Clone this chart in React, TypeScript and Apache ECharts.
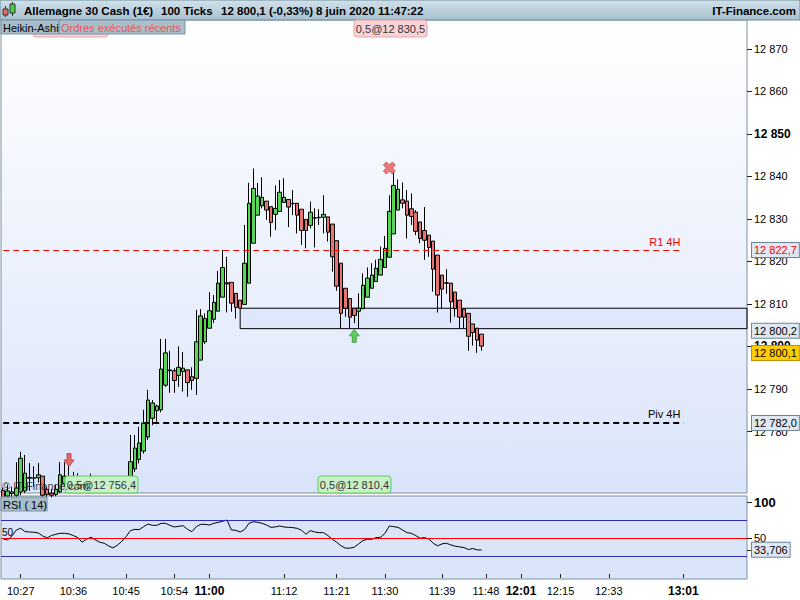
import { useEffect, useRef } from "react";
import * as echarts from "echarts";

// 100-tick Heikin-Ashi candles, index = slot on the time axis
const opens = [
  12766.1, 12764.8, 12765.4, 12765.0, 12765.8, 12766.0, 12769.0, 12769.1, 12769.1, 12769.5,
  12766.4, 12765.5, 12765.2, 12765.8, 12767.8, 12768.7, 12768.1, 12767.8, 12767.4, 12767.2,
  12767.4, 12767.8, 12767.6, 12767.4, 12767.5, 12767.7, 12767.6, 12767.8, 12768.1, 12769.4,
  12771.2, 12773.4, 12775.4, 12778.7, 12783.1, 12784.9, 12785.1, 12790.9, 12794.5, 12794.3,
  12793.2, 12794.1, 12794.5, 12792.9, 12792.5, 12796.8, 12801.1, 12804.3, 12806.4, 12808.3,
  12811.6, 12815.0, 12815.1, 12812.5, 12810.9, 12809.9, 12814.9, 12824.3, 12830.9, 12833.1,
  12834.2, 12832.9, 12831.1, 12831.8, 12833.9, 12834.6, 12833.7, 12833.7, 12832.3, 12829.9,
  12828.5, 12830.3, 12830.3, 12830.4, 12830.5, 12828.8, 12824.9, 12819.6, 12813.7, 12811.3,
  12809.0, 12808.3, 12808.9, 12811.6, 12813.7, 12815.3, 12816.8, 12818.6, 12821.0, 12826.5,
  12832.1, 12834.5, 12834.2, 12832.4, 12831.6, 12829.3, 12827.3, 12826.2, 12824.8, 12821.5,
  12816.8, 12815.0, 12814.9, 12812.8, 12810.9, 12808.8, 12807.8, 12805.3, 12804.3, 12802.9,
];
const closes = [
  12764.0, 12766.0, 12765.8, 12766.7, 12773.7, 12770.2, 12769.2, 12769.0, 12769.8, 12765.0,
  12765.2, 12765.0, 12766.4, 12769.8, 12769.5, 12767.5, 12767.6, 12767.2, 12767.0, 12767.6,
  12768.1, 12767.5, 12767.2, 12767.7, 12767.9, 12767.4, 12768.0, 12768.3, 12768.9, 12772.9,
  12776.1, 12777.3, 12782.0, 12787.4, 12786.7, 12786.0, 12794.7, 12798.5, 12794.3, 12792.0,
  12795.1, 12794.9, 12791.5, 12792.0, 12801.1, 12807.2, 12806.6, 12808.4, 12810.4, 12814.9,
  12818.6, 12814.7, 12810.2, 12809.2, 12809.0, 12819.6, 12833.7, 12837.2, 12835.4, 12835.1,
  12832.1, 12829.2, 12832.5, 12836.3, 12835.1, 12832.8, 12833.6, 12830.9, 12827.3, 12827.3,
  12831.6, 12830.2, 12830.4, 12831.1, 12826.9, 12821.1, 12814.2, 12807.8, 12809.0, 12806.9,
  12807.3, 12809.0, 12814.4, 12816.1, 12816.8, 12818.4, 12820.5, 12823.1, 12831.8, 12837.9,
  12837.0, 12833.7, 12830.9, 12830.6, 12827.1, 12825.4, 12825.0, 12823.3, 12818.2, 12812.1,
  12813.5, 12814.9, 12810.5, 12808.9, 12806.9, 12806.9, 12802.4, 12803.3, 12801.5, 12800.1,
];
const lows = [
  12763.5, 12763.5, 12764.0, 12764.0, 12765.0, 12765.5, 12766.0, 12767.0, 12768.0, 12764.0,
  12764.5, 12764.5, 12764.8, 12765.5, 12767.0, 12766.8, 12766.5, 12766.0, 12766.0, 12766.2,
  12766.8, 12766.5, 12766.0, 12766.4, 12766.8, 12766.5, 12766.9, 12767.0, 12767.4, 12768.6,
  12770.5, 12772.5, 12774.8, 12778.0, 12781.5, 12782.3, 12784.5, 12790.5, 12789.1, 12789.1,
  12790.5, 12789.4, 12788.2, 12789.8, 12788.6, 12796.8, 12800.6, 12804.3, 12805.5, 12808.3,
  12811.6, 12808.0, 12808.2, 12806.6, 12808.9, 12809.9, 12814.9, 12824.3, 12830.9, 12832.5,
  12829.8, 12825.8, 12827.4, 12831.8, 12833.9, 12828.1, 12830.9, 12826.6, 12823.9, 12823.1,
  12827.8, 12823.3, 12828.6, 12826.6, 12824.7, 12817.6, 12813.1, 12804.3, 12807.0, 12804.3,
  12805.5, 12804.3, 12808.9, 12811.6, 12813.7, 12815.3, 12816.8, 12818.6, 12821.0, 12826.5,
  12832.1, 12832.5, 12825.4, 12828.6, 12826.2, 12824.3, 12820.4, 12821.1, 12812.9, 12808.0,
  12808.9, 12812.4, 12805.6, 12807.0, 12804.3, 12804.3, 12799.0, 12800.2, 12798.5, 12799.0,
];
const highs = [
  12766.8, 12767.5, 12767.0, 12772.8, 12775.2, 12774.5, 12772.6, 12771.8, 12772.6, 12769.5,
  12767.0, 12766.5, 12767.5, 12772.8, 12772.8, 12772.0, 12770.5, 12770.2, 12768.5, 12768.8,
  12770.1, 12769.0, 12768.4, 12768.6, 12769.0, 12768.7, 12769.2, 12769.3, 12769.2, 12779.2,
  12779.2, 12781.1, 12785.1, 12789.8, 12787.4, 12786.3, 12801.8, 12801.8, 12799.0, 12794.9,
  12800.0, 12798.7, 12794.5, 12795.1, 12808.6, 12808.8, 12807.8, 12812.8, 12812.1, 12817.8,
  12822.7, 12821.1, 12815.1, 12812.5, 12810.9, 12828.6, 12838.5, 12841.9, 12838.5, 12839.8,
  12834.2, 12832.9, 12837.9, 12839.2, 12839.6, 12834.6, 12836.8, 12833.7, 12832.3, 12829.9,
  12834.1, 12832.5, 12832.3, 12835.6, 12830.5, 12828.8, 12824.9, 12819.6, 12813.7, 12811.3,
  12809.0, 12812.5, 12817.2, 12818.6, 12819.6, 12820.4, 12823.5, 12826.0, 12835.6, 12841.1,
  12839.3, 12838.6, 12836.8, 12836.0, 12832.1, 12829.3, 12832.8, 12826.2, 12824.8, 12821.5,
  12816.8, 12818.2, 12814.9, 12812.8, 12810.9, 12808.8, 12807.8, 12805.3, 12804.3, 12802.9,
];

// RSI(14), one value per candle
const rsiValues = [
  49.0, 47.6, 53.2, 61.5, 63.8, 59.2, 58.7, 58.3, 57.3, 53.2,
  50.4, 53.7, 55.5, 56.9, 56.9, 56.0, 53.7, 50.9, 44.4, 48.6,
  51.3, 47.6, 44.4, 43.0, 39.3, 36.5, 40.2, 45.3, 52.3, 60.6,
  62.4, 62.0, 66.1, 69.9, 68.0, 68.0, 70.8, 70.8, 68.0, 65.7,
  66.6, 67.5, 62.4, 59.2, 66.1, 69.4, 69.4, 68.5, 70.8, 72.2,
  73.6, 75.4, 61.5, 61.1, 58.7, 62.0, 70.8, 73.1, 72.2, 70.8,
  68.5, 65.2, 65.7, 67.1, 65.7, 65.2, 64.8, 63.8, 61.1, 55.5,
  60.6, 58.7, 57.8, 57.8, 53.7, 48.6, 44.4, 39.3, 36.1, 36.1,
  37.4, 42.1, 46.7, 48.6, 48.6, 50.9, 51.3, 56.9, 67.1, 66.1,
  65.2, 61.5, 57.8, 56.9, 53.7, 50.0, 50.9, 49.0, 43.0, 39.3,
  42.1, 43.0, 40.7, 38.8, 37.9, 37.0, 34.2, 35.6, 33.7, 33.706,
];

// time axis: slots and the labelled ones
const SLOTS = 170;
const timeLabels = ["10:27", "10:36", "10:45", "10:54", "11:00", "11:12", "11:21", "11:30", "11:39", "11:48", "12:01", "12:15", "12:33", "13:01"];
const timeLabelSlots = [4, 16, 28, 39, 47, 64, 76, 87, 100, 110, 118, 127, 138, 155];
const boldTimes = ["11:00", "12:01", "13:01"];

const priceTicks = [12780, 12790, 12800, 12810, 12820, 12830, 12840, 12850, 12860, 12870];
const boldPrices = [12800, 12850];
const rsiTicks = [50, 100];

const r1Level = 12822.7;
const pivotLevel = 12782.0;
const zoneTop = 12809.0;
const zoneBottom = 12804.2;
const zoneStartSlot = 54;
const lastPrice = 12800.1;
const lastRsi = 33.706;

const sellSignal = [15, 12773.3];
const buySignal = [80, 12802.5];
const exitSignal = [88, 12842.0];

const FONT = "Liberation Sans";

function fmtPrice(v: number, dec = 0) {
  const s = v.toFixed(dec).replace(".", ",");
  const [int, frac] = s.split(",");
  const grouped = int.replace(/\B(?=(\d{3})+(?!\d))/g, " ");
  return frac ? `${grouped},${frac}` : grouped;
}

// value tag drawn at the right end of an invisible horizontal line
function valueTag(value: number, text: string, color: string, bg: string, border: string, dy = 0) {
  return {
    yAxis: value,
    lineStyle: { color: "rgba(0,0,0,0)", width: 0 },
    label: {
      show: true,
      position: "end",
      distance: 5,
      formatter: text,
      color,
      fontFamily: FONT,
      fontSize: 11,
      backgroundColor: bg,
      borderColor: border,
      borderWidth: 1,
      padding: [2, 2, 1, 2],
      offset: [0, dy],
    },
  };
}

function tab(x: number, y: number, w: number, text: string, color: string) {
  return [
    {
      type: "rect",
      z: 100,
      shape: { x, y, width: w, height: 14 },
      style: { fill: "#a8bfcb", stroke: "#7893a3", lineWidth: 1 },
    },
    {
      type: "text",
      z: 101,
      x: x + 2,
      y: y + 7.5,
      style: { text, fill: color, font: `11px "${FONT}"`, verticalAlign: "middle" },
    },
  ];
}

function tradeBox(x: number, y: number, text: string, fill: string, stroke: string) {
  return [
    {
      type: "rect",
      z: 100,
      shape: { x, y, width: 73, height: 17, r: 3 },
      style: { fill, stroke, lineWidth: 1 },
    },
    {
      type: "text",
      z: 101,
      x: x + 36.5,
      y: y + 9,
      style: { text, fill: "#333", font: `11px "${FONT}"`, align: "center", verticalAlign: "middle" },
    },
  ];
}

export default function App() {
  const chartRef = useRef<HTMLDivElement>(null);

  useEffect(() => {
    if (!chartRef.current) return;
    const chart = echarts.init(chartRef.current, null, { renderer: "svg" });

    const categories: string[] = Array.from({ length: SLOTS }, () => "");
    timeLabelSlots.forEach((s, i) => (categories[s] = timeLabels[i]));
    const showSlot = (index: number) => timeLabelSlots.includes(index);

    const candles = opens.map((o, i) => [o, closes[i], lows[i], highs[i]]);

    const headerFont = `bold 11.5px "${FONT}"`;

    const option = {
      animation: false,
      backgroundColor: "#ffffff",
      textStyle: { fontFamily: FONT },
      grid: [
        {
          left: 1,
          right: 53,
          top: 20,
          height: 473,
          show: true,
          backgroundColor: new echarts.graphic.LinearGradient(0, 0, 0, 1, [
            { offset: 0, color: "#ffffff" },
            { offset: 1, color: "#dae4fa" },
          ]),
          borderColor: "#7d91a0",
          borderWidth: 1,
        },
        {
          left: 1,
          right: 53,
          top: 496,
          height: 83,
          show: true,
          backgroundColor: "#dbe5fa",
          borderColor: "#7d91a0",
          borderWidth: 1,
        },
      ],
      xAxis: [
        {
          type: "category",
          gridIndex: 0,
          data: categories,
          boundaryGap: true,
          show: false,
        },
        {
          type: "category",
          gridIndex: 1,
          data: categories,
          boundaryGap: true,
          axisLine: { show: false },
          axisTick: {
            show: true,
            interval: (index: number) => showSlot(index),
            alignWithLabel: true,
            length: 4,
            lineStyle: { color: "#222" },
          },
          axisLabel: {
            interval: (index: number) => showSlot(index),
            color: "#000",
            fontSize: 11,
            margin: 6,
            formatter: (v: string) => (boldTimes.includes(v) ? `{b|${v}}` : v),
            rich: { b: { fontWeight: "bold", fontSize: 12, color: "#000" } },
          },
          splitLine: { show: false },
        },
      ],
      yAxis: [
        {
          type: "value",
          gridIndex: 0,
          position: "right",
          min: 12765.53,
          max: 12876.82,
          axisLine: { show: false },
          axisTick: { show: true, customValues: priceTicks, length: 5, lineStyle: { color: "#222" } },
          axisLabel: {
            customValues: priceTicks,
            color: "#000",
            fontSize: 11,
            margin: 7,
            formatter: (v: number) => (boldPrices.includes(v) ? `{b|${fmtPrice(v)}}` : fmtPrice(v)),
            rich: { b: { fontWeight: "bold", fontSize: 12, color: "#000" } },
          },
          splitLine: { show: false },
        },
        {
          type: "value",
          gridIndex: 1,
          position: "right",
          min: -7,
          max: 109,
          axisLine: { show: false },
          axisTick: { show: true, customValues: [lastRsi, ...rsiTicks], length: 5, lineStyle: { color: "#222" } },
          axisLabel: {
            customValues: rsiTicks,
            color: "#000",
            fontSize: 11,
            margin: 7,
            formatter: (v: number) => (v === 100 ? `{b|${v}}` : `${v}`),
            rich: { b: { fontWeight: "bold", fontSize: 13, color: "#000" } },
          },
          splitLine: { show: false },
        },
      ],
      series: [
        {
          name: "Heikin-Ashi",
          type: "candlestick",
          xAxisIndex: 0,
          yAxisIndex: 0,
          data: candles,
          barWidth: 4,
          itemStyle: {
            color: "#55d655",
            color0: "#e87373",
            borderColor: "#000",
            borderColor0: "#000",
            borderWidth: 1,
          },
          markArea: {
            silent: true,
            itemStyle: { color: "rgba(200,214,250,0.3)", borderColor: "#000", borderWidth: 1 },
            data: [[{ xAxis: zoneStartSlot, yAxis: zoneTop }, { yAxis: zoneBottom }]],
          },
          markLine: {
            silent: true,
            symbol: ["none", "none"],
            data: [
              [
                {
                  coord: [0, r1Level],
                  lineStyle: { color: "#ff0000", width: 1, type: [6, 4] },
                  label: {
                    show: true,
                    position: "insideEndTop",
                    formatter: "R1 4H",
                    color: "#ff0000",
                    fontSize: 11,
                    distance: 3,
                  },
                },
                { coord: [155, r1Level] },
              ],
              [
                {
                  coord: [0, pivotLevel],
                  lineStyle: { color: "#000", width: 2, type: [6, 4] },
                  label: {
                    show: true,
                    position: "insideEndTop",
                    formatter: "Piv 4H",
                    color: "#000",
                    fontSize: 11,
                    distance: 3,
                  },
                },
                { coord: [155, pivotLevel] },
              ],
              valueTag(r1Level, fmtPrice(r1Level, 1), "#ff0000", "#dfe7f3", "#6d8496"),
              valueTag(zoneBottom, "12 800,2", "#000", "#dfe7f3", "#6d8496", 2),
              valueTag(pivotLevel, fmtPrice(pivotLevel, 1), "#000", "#dfe7f3", "#6d8496"),
              valueTag(lastPrice, fmtPrice(lastPrice, 1), "#000", "#ffcc00", "#b89200", 7),
            ],
          },
          z: 3,
        },
        {
          name: "signals",
          type: "scatter",
          xAxisIndex: 0,
          yAxisIndex: 0,
          silent: true,
          z: 5,
          data: [
            {
              value: sellSignal,
              symbol: "path://M3,0 L7,0 L7,6 L10,6 L5,12 L0,6 L3,6 Z",
              symbolSize: [10, 13],
              itemStyle: { color: "#e94848", borderColor: "#a82020", borderWidth: 0.8 },
            },
            {
              value: buySignal,
              symbol: "path://M5,0 L10,6 L7,6 L7,12 L3,12 L3,6 L0,6 Z",
              symbolSize: [10, 13],
              itemStyle: { color: "#3fc43f", borderColor: "#178a17", borderWidth: 0.8 },
            },
            {
              value: exitSignal,
              symbol: "path://M3,0 L6,3 L9,0 L12,3 L9,6 L12,9 L9,12 L6,9 L3,12 L0,9 L3,6 L0,3 Z",
              symbolSize: [12, 12],
              itemStyle: { color: "#e85a5a", borderColor: "#b03030", borderWidth: 0.8 },
            },
          ],
        },
        {
          name: "RSI",
          type: "line",
          xAxisIndex: 1,
          yAxisIndex: 1,
          data: rsiValues,
          showSymbol: false,
          symbol: "none",
          lineStyle: { color: "#000", width: 1 },
          z: 4,
          markLine: {
            silent: true,
            symbol: ["none", "none"],
            data: [
              { yAxis: 75, lineStyle: { color: "#2d2dbb", width: 1, type: "solid" }, label: { show: false } },
              { yAxis: 25, lineStyle: { color: "#2d2dbb", width: 1, type: "solid" }, label: { show: false } },
              {
                yAxis: 50,
                lineStyle: { color: "#ff0000", width: 1, type: "solid" },
                label: { show: true, position: "insideStartTop", formatter: "50", color: "#000", fontSize: 10, distance: 1 },
              },
              valueTag(lastRsi, fmtPrice(lastRsi, 3), "#000", "#dfe7f3", "#6d8496"),
            ],
          },
        },
      ],
      graphic: [
        // header bar
        {
          type: "rect",
          z: 100,
          shape: { x: 0, y: 0, width: 800, height: 20 },
          style: {
            fill: new echarts.graphic.LinearGradient(0, 0, 0, 1, [
              { offset: 0, color: "#d2e1eb" },
              { offset: 1, color: "#a7c0cf" },
            ]),
            stroke: "#6f8b9c",
            lineWidth: 1,
          },
        },
        { type: "line", z: 101, shape: { x1: 5.5, y1: 6, x2: 5.5, y2: 17 }, style: { stroke: "#333", lineWidth: 1 } },
        { type: "rect", z: 102, shape: { x: 3, y: 9, width: 5, height: 6 }, style: { fill: "#e86a6a", stroke: "#333", lineWidth: 1 } },
        { type: "line", z: 101, shape: { x1: 12.5, y1: 2, x2: 12.5, y2: 16 }, style: { stroke: "#333", lineWidth: 1 } },
        { type: "rect", z: 102, shape: { x: 10, y: 4, width: 5, height: 9 }, style: { fill: "#45d045", stroke: "#333", lineWidth: 1 } },
        { type: "text", z: 101, x: 24, y: 10.5, style: { text: "Allemagne 30 Cash (1€)", font: headerFont, fill: "#000", verticalAlign: "middle" } },
        { type: "text", z: 101, x: 161, y: 10.5, style: { text: "100 Ticks", font: headerFont, fill: "#000", verticalAlign: "middle" } },
        { type: "text", z: 101, x: 221, y: 10.5, style: { text: "12 800,1 (-0,33%)", font: headerFont, fill: "#000", verticalAlign: "middle" } },
        { type: "text", z: 101, x: 316, y: 10.5, style: { text: "8 juin 2020 11:47:22", font: headerFont, fill: "#000", verticalAlign: "middle" } },
        { type: "text", z: 101, x: 796, y: 10.5, style: { text: "IT-Finance.com", font: headerFont, fill: "#000", align: "right", verticalAlign: "middle" } },
        // hidden recent-order tag under the tabs
        {
          type: "rect",
          z: 99,
          shape: { x: 33, y: 26, width: 75, height: 11, r: 3 },
          style: { fill: "#f8d3d8", stroke: "#eaa5ad", lineWidth: 1 },
        },
        ...tab(1, 20, 58, "Heikin-Ashi", "#000"),
        ...tab(59, 20, 126, "Ordres exécutés récents", "#e05858"),
        ...tab(1, 497, 46, "RSI ( 14)", "#000"),
        // recent orders
        ...tradeBox(354, 20, "0,5@12 830,5", "#f8d3d8", "#e8a2aa"),
        ...tradeBox(65, 476, "0,5@12 756,4", "#c9f1c9", "#5bd05b"),
        ...tradeBox(318, 476, "0,5@12 810,4", "#c9f1c9", "#5bd05b"),
        {
          type: "text",
          z: 102,
          x: 2,
          y: 486,
          style: { text: "© IT-Finance.com", font: `11px "${FONT}"`, fill: "#222", opacity: 0.85, verticalAlign: "middle" },
        },
      ],
    };

    chart.setOption(option as any);

    return () => {
      chart.dispose();
    };
  }, []);

  return (
    <div
      ref={chartRef}
      style={{ position: "fixed", left: 0, top: 0, width: "800px", height: "600px", background: "#fff" }}
    ></div>
  );
}
